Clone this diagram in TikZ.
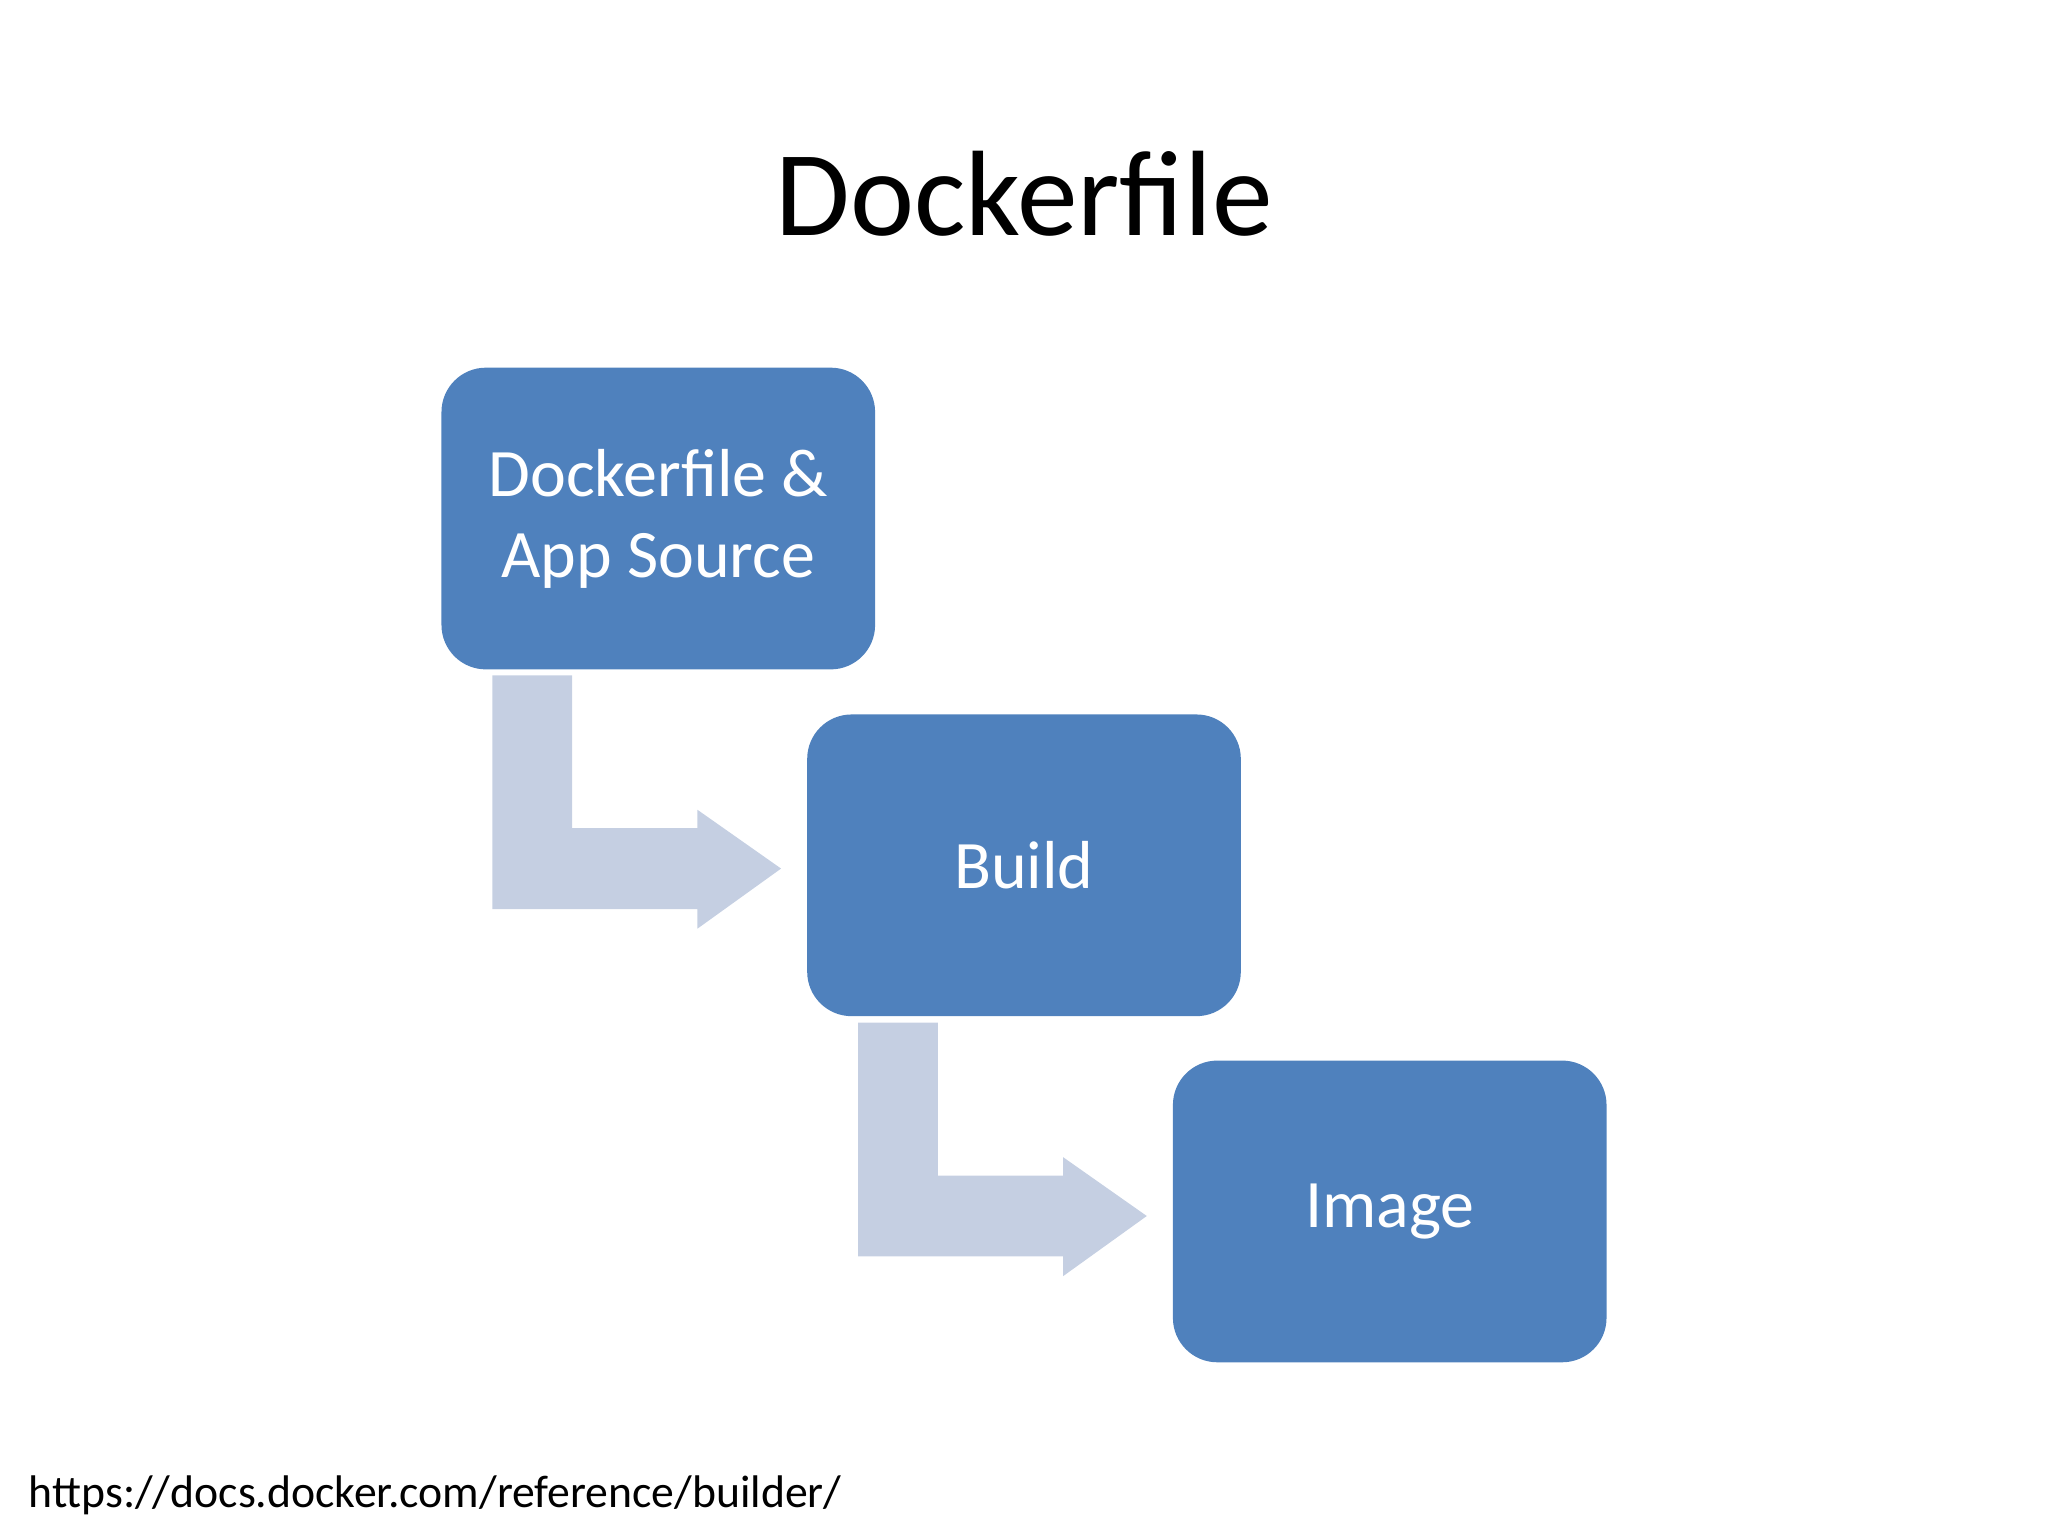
\documentclass[tikz,border=0pt]{standalone}
\usepackage{fontspec}
\setmainfont{Carlito}
\definecolor{boxblue}{HTML}{4F81BD}
\definecolor{arrowblue}{HTML}{C5CFE2}
\begin{document}
\begin{tikzpicture}[x=0.5pt,y=-0.5pt,
  stepbox/.style={fill=boxblue,draw=none,rounded corners=17pt,minimum width=166pt,minimum height=115.5pt,inner sep=0pt,text=white,font=\fontsize{26}{31}\selectfont,align=center},
  bentarrow/.style={fill=arrowblue,draw=none}]
\useasboundingbox (0,0) rectangle (1568,1176);
\node[font=\fontsize{46.5}{56}\selectfont] (title) at (784,148) {Dockerfile};
\node[stepbox] (a) at (504,397) {Dockerfile \&\\App Source};
\node[stepbox] (b) at (784,662.5) {Build};
\node[stepbox] (c) at (1064,927.5) {Image};
\fill[bentarrow] (377,517) -- (438,517) -- (438,634) -- (534,634) -- (534,620) -- (598,665) -- (534,711) -- (534,696) -- (377,696) -- cycle;
\fill[bentarrow] (657,783) -- (718,783) -- (718,900) -- (814,900) -- (814,886) -- (878,931) -- (814,977) -- (814,962) -- (657,962) -- cycle;
\node[anchor=west,font=\fontsize{17.5}{21}\selectfont] (url) at (15,1145) {https://docs.docker.com/reference/builder/};
\end{tikzpicture}
\end{document}
